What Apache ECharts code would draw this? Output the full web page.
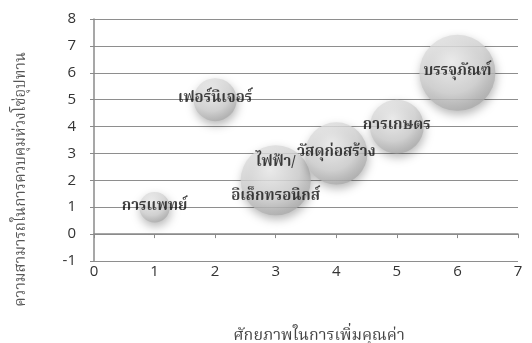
<!DOCTYPE html>
<html>
<head>
<meta charset="utf-8">
<script src="https://cdn.jsdelivr.net/npm/echarts@6/dist/echarts.min.js"></script>
<style>
  html, body { margin: 0; padding: 0; background: #fff; }
  #main { width: 532px; height: 343px; }
</style>
</head>
<body>
<div id="main"></div>
<script>
// ข้อมูลกราฟ
var names = ['การแพทย์', 'เฟอร์นิเจอร์', 'ไฟฟ้า/\nอิเล็กทรอนิกส์', 'วัสดุก่อสร้าง', 'การเกษตร', 'บรรจุภัณฑ์'];
var xValues = [1, 2, 3, 4, 5, 6];
var yValues = [1, 5, 2, 3, 4, 6];
var sizes = [16, 32, 85, 67, 50, 100];

var xTitle = 'ศักยภาพในการเพิ่มคุณค่า';
var yTitle = 'ความสามารถในการควบคุมห่วงโซ่อุปทาน';

var thaiFont = "'Noto Serif Thai', 'Noto Sans Thai', 'DejaVu Serif', serif";
var numFont = "'Open Sans', 'Liberation Sans', sans-serif";

var data = [];
for (var i = 0; i < names.length; i++) {
  data.push([xValues[i], yValues[i], sizes[i], names[i]]);
}

var myChart = echarts.init(document.getElementById('main'));
var option = {
  backgroundColor: '#fff',
  animation: false,
  grid: { left: 94, right: 14, top: 19, bottom: 82, outerBoundsMode: 'none' },
  xAxis: [
    {
      type: 'value', min: 0, max: 7, interval: 1,
      position: 'bottom',
      name: xTitle, nameLocation: 'middle', nameGap: 68,
      nameTextStyle: { fontFamily: thaiFont, fontSize: 16, color: '#444', padding: [0, 0, 0, 26] },
      axisLine: { show: false, onZero: false },
      axisTick: { show: false },
      splitLine: { show: false },
      axisLabel: { margin: 3, fontFamily: numFont, fontSize: 15, color: '#333', showMaxLabel: true }
    },
    {
      type: 'value', min: 0, max: 7, interval: 1,
      position: 'bottom',
      axisLine: { show: true, onZero: true, lineStyle: { color: '#8a8a8a', width: 1.5 } },
      axisTick: { show: true, length: 4, lineStyle: { color: '#8a8a8a' } },
      axisLabel: { show: false },
      splitLine: { show: false }
    }
  ],
  yAxis: {
    type: 'value', min: -1, max: 8, interval: 1,
    name: yTitle, nameLocation: 'middle', nameGap: 64, nameRotate: 90,
    nameTextStyle: { fontFamily: thaiFont, fontSize: 15, color: '#555', padding: [0, 79, 0, 0] },
    axisLine: { show: true, lineStyle: { color: '#8a8a8a', width: 1.5 } },
    axisTick: { show: true, length: 4, lineStyle: { color: '#8a8a8a' } },
    axisLabel: { margin: 18, fontFamily: numFont, fontSize: 15, color: '#333' },
    splitLine: { show: true, lineStyle: { color: '#8e8e8e', width: 1.2 } }
  },
  series: [
    {
      type: 'scatter',
      xAxisIndex: 0,
      data: data,
      symbolSize: function (val) {
        return 76 * Math.sqrt(val[2] / 100);
      },
      itemStyle: {
        color: {
          type: 'radial', x: 0.42, y: 0.35, r: 0.7,
          colorStops: [
            { offset: 0, color: '#f6f6f6' },
            { offset: 0.6, color: '#d6d6d6' },
            { offset: 1, color: '#a4a4a4' }
          ]
        },
        shadowBlur: 10,
        shadowColor: 'rgba(0,0,0,0.35)',
        shadowOffsetX: 1,
        shadowOffsetY: 4
      },
      label: {
        show: true,
        position: 'inside',
        formatter: function (p) { return p.data[3]; },
        fontFamily: thaiFont,
        fontWeight: 'bold',
        fontSize: 15,
        lineHeight: 34,
        color: '#111'
      }
    }
  ]
};

myChart.setOption(option);
</script>
</body>
</html>
